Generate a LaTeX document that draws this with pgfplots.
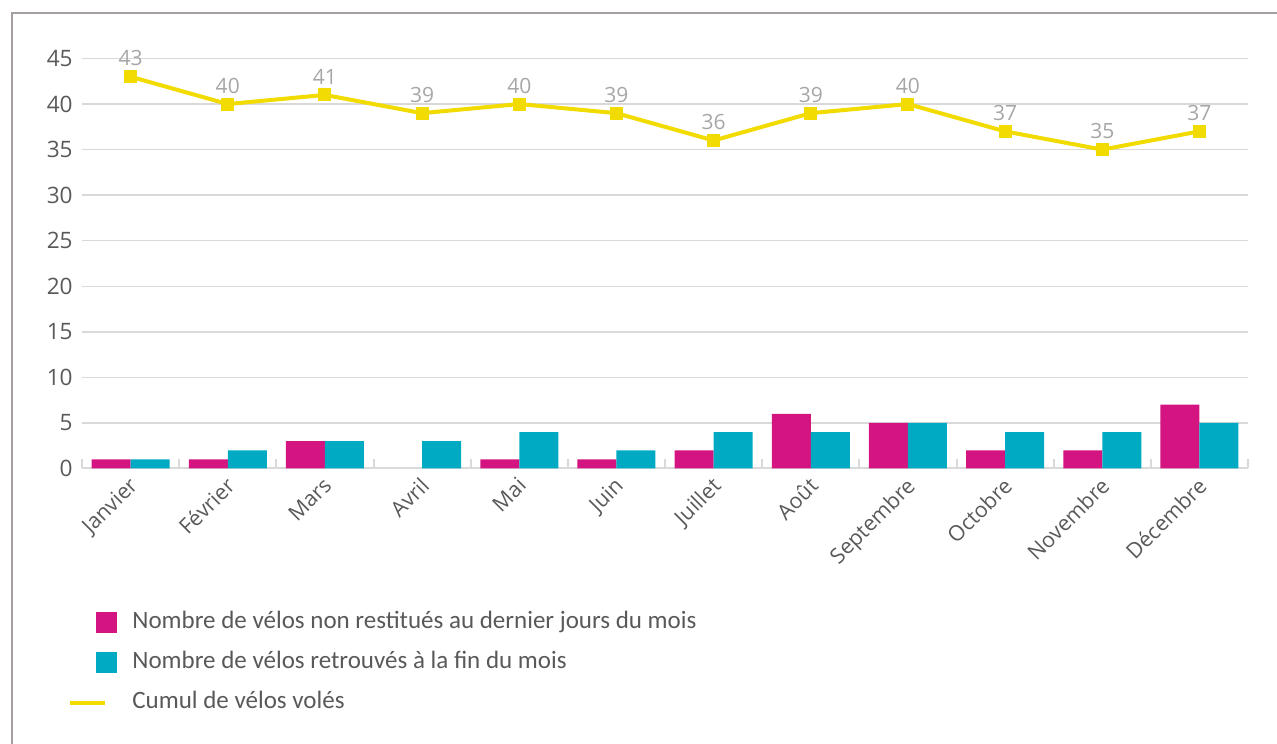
\documentclass[border=0pt]{standalone}
\usepackage{fontspec}
\usepackage{pgfplots}
\pgfplotsset{compat=1.18}
\setmainfont{Open Sans}
\newfontfamily\legfont{Carlito}
\definecolor{magentabar}{HTML}{D41480}
\definecolor{cyanbar}{HTML}{00AAC3}
\definecolor{lineyellow}{HTML}{F2DB00}
\definecolor{tickgray}{HTML}{595959}
\definecolor{labelgray}{HTML}{A6A6A6}
\definecolor{gridgray}{HTML}{D9D9D9}
\definecolor{framegray}{HTML}{A59FA1}
\begin{document}
\begin{tikzpicture}
\path[use as bounding box] (0,0) rectangle (638.5pt,371.5pt);
\draw[framegray, line width=0.75pt] (6pt,-5pt) -- (6pt,365pt) -- (645pt,365pt);
\begin{axis}[
  at={(41pt,137.25pt)}, anchor=south west,
  scale only axis, width=583pt, height=205pt,
  xmin=-0.5, xmax=11.5, ymin=0, ymax=45,
  clip=false,
  ytick={0,5,...,45},
  xtick={0,...,11},
  xticklabels={Janvier,Février,Mars,Avril,Mai,Juin,Juillet,Août,Septembre,Octobre,Novembre,Décembre},
  minor xtick={-0.5,0.5,...,11.5},
  major tick length=0pt,
  minor tick length=4.5pt,
  tick align=inside,
  minor tick style={color=gridgray, line width=1pt},
  axis x line*=bottom,
  axis y line*=left,
  y axis line style={draw=none},
  x axis line style={color=gridgray, line width=1pt, -},
  ymajorgrids,
  major grid style={color=gridgray, line width=0.75pt},
  /pgf/number format/assume math mode=true,
  yticklabel style={font=\fontsize{11.3}{13}\selectfont, text=tickgray, anchor=east, inner sep=0pt, xshift=-4.5pt},
  xticklabel style={xshift=-1.5pt, yshift=-3.5pt, font=\fontsize{10.7}{13}\selectfont, text=tickgray, rotate=45, anchor=north east, inner sep=0pt},
  legend style={at={(axis description cs:-0.012,-0.35)}, anchor=north west, draw=none, fill=none, inner sep=0pt,
    font=\legfont\fontsize{12.5}{14}\selectfont, text=tickgray, row sep=9.5pt, column sep=7.5pt,
    nodes={inner sep=0pt, text height=8pt, text depth=2.5pt}},
  legend cell align=left,
]
\addplot[ybar, bar width=19.5pt, bar shift=-9.75pt, fill=magentabar, draw=none,
  legend image code/.code={\fill[magentabar] (0pt,-5.25pt) rectangle (10.5pt,5.25pt);}]
  coordinates {(0,1) (1,1) (2,3) (4,1) (5,1) (6,2) (7,6) (8,5) (9,2) (10,2) (11,7)};
\addlegendentry{Nombre de vélos non restitués au dernier jours du mois}
\addplot[ybar, bar width=19.5pt, bar shift=9.75pt, fill=cyanbar, draw=none,
  legend image code/.code={\fill[cyanbar] (0pt,-5.25pt) rectangle (10.5pt,5.25pt);}]
  coordinates {(0,1) (1,2) (2,3) (3,3) (4,4) (5,2) (6,4) (7,4) (8,5) (9,4) (10,4) (11,5)};
\addlegendentry{Nombre de vélos retrouvés à la fin du mois}
\addplot[sharp plot, color=lineyellow, line width=2pt, mark=square*, mark size=3pt, mark options={solid, fill=lineyellow, line width=0pt},
  nodes near coords,
  every node near coord/.append style={font=\fontsize{10.5}{12}\selectfont, text=labelgray, yshift=2pt},
  legend image code/.code={\draw[lineyellow, line width=2pt] (-13pt,0pt) -- (4.5pt,0pt);}]
  coordinates {(0,43) (1,40) (2,41) (3,39) (4,40) (5,39) (6,36) (7,39) (8,40) (9,37) (10,35) (11,37)};
\addlegendentry{Cumul de vélos volés}
\end{axis}
\end{tikzpicture}
\end{document}
